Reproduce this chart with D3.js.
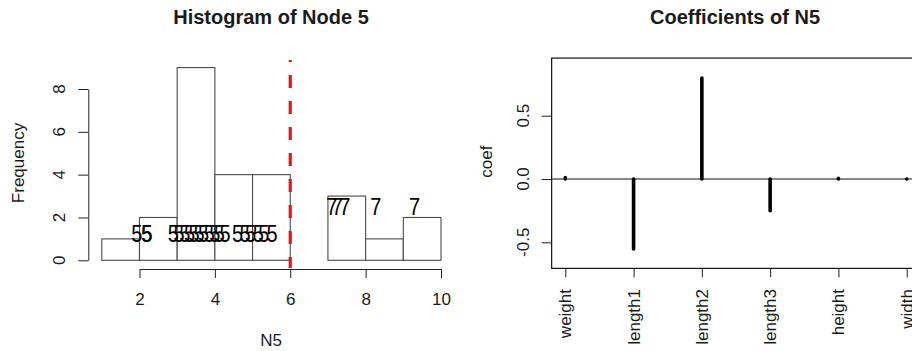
<!DOCTYPE html>
<html><head><meta charset="utf-8">
<script src="https://cdn.jsdelivr.net/npm/d3@7"></script>
<style>
body{margin:0;background:#fff}
svg{display:block}
text{font-family:"Liberation Sans",Arial,sans-serif;fill:#1a1a1a}
</style>
</head><body>
<svg id="c" width="912" height="351"></svg>
<script>
// ---------- data ----------
const histBreaks = [1, 2, 3, 4, 5, 6, 7, 8, 9, 10];
const histCounts = [1, 2, 9, 4, 4, 0, 3, 1, 2];
const histXTicks = [2, 4, 6, 8, 10];
const histYTicks = [0, 2, 4, 6, 8];
const splitValue = 6;
const fiveLabelX = [1.93, 2.19, 2.2, 2.9, 3.05, 3.2, 3.33, 3.45, 3.58, 3.7, 3.85, 4.0, 4.12, 4.27, 4.6, 4.8, 4.95, 5.15, 5.3, 5.52];
const fiveLabelY = 1.26;
const sevenLabelX = [7.1, 7.25, 7.45, 8.27, 9.3];
const sevenLabelY = 2.5;

const coefNames = ["weight", "length1", "length2", "length3", "height", "width"];
const coefValues = [0.012, -0.553, 0.797, -0.25, 0.005, 0.0];
const coefYTicks = [-0.5, 0, 0.5];

// ---------- layout ----------
const svg = d3.select("#c");
const FS = 17;

// Histogram scales
const xh = d3.scaleLinear().domain([1, 10]).range([101.8, 441]);
const yh = d3.scaleLinear().domain([0, 8]).range([260.3, 89]);
const hist = svg.append("g");

hist.append("text").attr("x", 271).attr("y", 24).attr("text-anchor", "middle")
  .style("font-weight", "bold").style("font-size", "20px").text("Histogram of Node 5");

// bars
const bins = histCounts.map((c, i) => ({x0: histBreaks[i], x1: histBreaks[i + 1], n: c}));
hist.selectAll("rect.bar").data(bins).join("rect").attr("class", "bar")
  .attr("x", d => xh(d.x0)).attr("width", d => xh(d.x1) - xh(d.x0))
  .attr("y", d => yh(d.n)).attr("height", d => yh(0) - yh(d.n))
  .attr("fill", "#fff").attr("stroke", "#4a4a4a").attr("stroke-width", 1.1);

// x axis
const xAxisScale = xh.copy().domain([2, 10]).range([xh(2), xh(10)]);
const gx = hist.append("g").attr("transform", "translate(0,269)")
  .call(d3.axisBottom(xAxisScale).tickValues(histXTicks).tickSize(9).tickSizeOuter(0).tickFormat(d3.format("d")));
gx.select(".domain").attr("stroke", "#222");
gx.selectAll(".tick line").attr("stroke", "#222");
gx.selectAll(".tick text").attr("y", 0).attr("dy", 0).attr("transform", "translate(0,36)")
  .style("font-size", FS + "px").style("font-family", "Liberation Sans, Arial, sans-serif").style("fill", "#1a1a1a");
gx.attr("font-size", null).attr("font-family", null);

hist.append("text").attr("x", 271).attr("y", 346).attr("text-anchor", "middle")
  .style("font-size", FS + "px").text("N5");

// y axis
const gy = hist.append("g").attr("transform", "translate(88.3,0)")
  .call(d3.axisLeft(yh).tickValues(histYTicks).tickSize(10).tickSizeOuter(0));
gy.select(".domain").attr("stroke", "#222");
gy.selectAll(".tick line").attr("stroke", "#222");
gy.selectAll(".tick text").remove();
gy.attr("font-size", null).attr("font-family", null);
hist.selectAll("text.ytl").data(histYTicks).join("text").attr("class", "ytl")
  .attr("transform", d => `translate(65,${yh(d)}) rotate(-90)`).attr("text-anchor", "middle")
  .style("font-size", FS + "px").text(d => d);
hist.append("text").attr("transform", `translate(24,163) rotate(-90)`).attr("text-anchor", "middle")
  .style("font-size", FS + "px").text("Frequency");

// labels
hist.selectAll("text.five").data(fiveLabelX).join("text").attr("class", "five")
  .attr("transform", d => `translate(${xh(d)},${yh(fiveLabelY)}) scale(1,1.15)`)
  .attr("text-anchor", "middle").attr("dy", "0.36em").style("font-size", "20px").style("fill", "#000")
  .text("5");
hist.selectAll("text.seven").data(sevenLabelX).join("text").attr("class", "seven")
  .attr("transform", d => `translate(${xh(d)},${yh(sevenLabelY)}) scale(1,1.15)`)
  .attr("text-anchor", "middle").attr("dy", "0.36em").style("font-size", "20px").style("fill", "#000")
  .text("7");

// split line
const yTopH = yh(9.36), yBotH = yh(-0.36);
hist.append("line").attr("x1", xh(splitValue)).attr("x2", xh(splitValue))
  .attr("y1", yTopH).attr("y2", yBotH)
  .attr("stroke", "#e8141c").attr("stroke-width", 3.2)
  .attr("stroke-dasharray", "13,13").attr("stroke-dashoffset", 11);

// ---------- coefficient plot ----------
const xc = d3.scaleLinear().domain([1, 6]).range([565.3, 906.7]);
const yc = d3.scaleLinear().domain([-0.5, 0.5]).range([242.3, 115.7]);
const coef = svg.append("g");
const boxL = xc(0.8), boxR = xc(6.2), boxT = yc(0.955), boxB = yc(-0.706);

coef.append("text").attr("x", 735).attr("y", 24).attr("text-anchor", "middle")
  .style("font-weight", "bold").style("font-size", "20px").text("Coefficients of N5");

coef.append("rect").attr("x", boxL).attr("y", boxT).attr("width", boxR - boxL).attr("height", boxB - boxT)
  .attr("fill", "none").attr("stroke", "#111").attr("stroke-width", 1.2);
coef.append("line").attr("x1", boxL).attr("x2", boxR).attr("y1", yc(0)).attr("y2", yc(0))
  .attr("stroke", "#111").attr("stroke-width", 1.2);

coef.selectAll("line.h").data(coefValues).join("line").attr("class", "h")
  .attr("x1", (d, i) => xc(i + 1)).attr("x2", (d, i) => xc(i + 1))
  .attr("y1", yc(0)).attr("y2", d => yc(d))
  .attr("stroke", "#000").attr("stroke-width", 3.6).attr("stroke-linecap", "round");

// y axis
const gcy = coef.append("g").attr("transform", `translate(${boxL},0)`)
  .call(d3.axisLeft(yc).tickValues(coefYTicks).tickSize(10).tickSizeOuter(0));
gcy.select(".domain").remove();
gcy.selectAll(".tick line").attr("stroke", "#222");
gcy.selectAll(".tick text").remove();
coef.selectAll("text.cyl").data(coefYTicks).join("text").attr("class", "cyl")
  .attr("transform", d => `translate(528.5,${yc(d)}) rotate(-90)`).attr("text-anchor", "middle")
  .style("font-size", FS + "px").text(d => d3.format(".1f")(d).replace("−", "-"));
coef.append("text").attr("transform", `translate(492,161.7) rotate(-90)`).attr("text-anchor", "middle")
  .style("font-size", FS + "px").text("coef");

// x axis ticks + rotated names
const gcx = coef.append("g").attr("transform", `translate(0,${boxB})`)
  .call(d3.axisBottom(xc).tickValues(d3.range(1, coefNames.length + 1)).tickSize(9).tickSizeOuter(0));
gcx.select(".domain").remove();
gcx.selectAll(".tick line").attr("stroke", "#222");
gcx.selectAll(".tick text").remove();
coef.selectAll("text.cxl").data(coefNames).join("text").attr("class", "cxl")
  .attr("transform", (d, i) => `translate(${xc(i + 1) + 6},289) rotate(-90)`).attr("text-anchor", "end")
  .style("font-size", FS + "px").text(d => d);
</script>
</body></html>
